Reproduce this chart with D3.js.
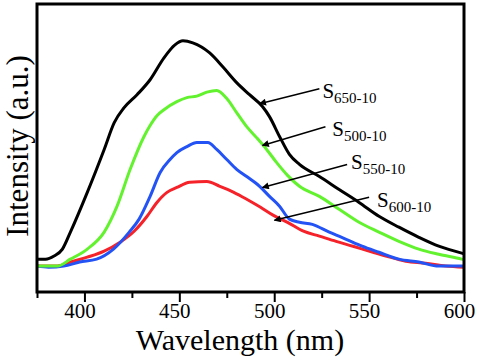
<!DOCTYPE html>
<html>
<head>
<meta charset="utf-8">
<script src="https://cdn.jsdelivr.net/npm/d3@7"></script>
<style>
  html, body { margin: 0; padding: 0; background: #fff; }
  svg { display: block; }
  text { font-family: "Liberation Serif", "Times New Roman", Times, serif; }
</style>
</head>
<body>
<div id="chart"></div>
<script>
// ---- data ----
const xTicksMajor = [400, 450, 500, 550, 600];
const xTicksMinor = [375, 425, 475, 525, 575];

const s650 = [
  [375, 114], [379.5, 114], [384, 125], [388.4, 149], [392.6, 208], [401.5, 346],
  [410.4, 495], [415.7, 588], [420.9, 640], [427.7, 685], [434.6, 737],
  [441.9, 813], [447.7, 858], [451.9, 872], [457.1, 865], [466.0, 830],
  [472.9, 782], [480.2, 727], [487.0, 685], [493.8, 644], [497.5, 609],
  [502.8, 540], [508.0, 478], [513.3, 443], [523.8, 401], [534.2, 356],
  [544.7, 311], [555.2, 263], [565.7, 225], [576.2, 190], [586.7, 159],
  [598.8, 135], [600, 133]
];
const s500 = [
  [375, 90], [385.8, 90], [392.6, 114], [401.5, 149], [410.4, 208],
  [417.2, 298], [424.1, 426], [431.4, 540], [434.6, 578], [438.2, 612],
  [441.9, 633], [448.7, 661], [454.0, 675], [459.2, 680], [464.5, 694],
  [469.7, 700], [475.0, 672], [480.2, 623], [485.5, 574], [490.7, 536],
  [496.0, 495], [501.2, 450], [507.0, 405], [513.3, 367], [523.8, 332],
  [534.2, 287], [544.7, 242], [555.2, 208], [565.7, 176], [576.2, 149],
  [586.7, 131], [598.8, 114], [600, 112]
];
const s550 = [
  [375, 90], [381.1, 86], [389.1, 90], [397.5, 104], [406.4, 114],
  [415.3, 149], [423.6, 208], [428.8, 253], [434.6, 332], [439.9, 415],
  [445.1, 460], [448.7, 484], [454.0, 505], [459.2, 519], [465.0, 519],
  [469.7, 495], [475.0, 460], [480.2, 426], [485.5, 401], [492.3, 367],
  [497.5, 332], [502.8, 298], [508.0, 253], [513.3, 242], [520.1, 235],
  [529.0, 208], [537.9, 183], [546.3, 159], [555.2, 138], [565.7, 114],
  [576.2, 104], [586.7, 90], [598.8, 90], [600, 90]
];
const s600 = [
  [375, 90], [385.8, 90], [392.6, 104], [401.5, 121], [410.4, 142],
  [418.8, 173], [426.2, 211], [433.0, 263], [438.2, 311], [443.5, 346],
  [448.7, 363], [455.5, 381], [464.5, 384], [471.3, 367], [478.7, 346],
  [485.5, 322], [492.8, 294], [499.6, 266], [507.0, 242], [515.4, 211],
  [523.8, 194], [532.6, 176], [541.5, 159], [549.9, 142], [558.8, 125],
  [569.3, 107], [579.8, 100], [590.3, 90], [600, 86]
];

const seriesNames = ["650-10", "500-10", "550-10", "600-10"];
const seriesColors = ["#000000", "#62f22e", "#2453f5", "#f5222a"];
const seriesData = [s650, s500, s550, s600];
// draw order: red & blue under green under black
const drawOrder = [3, 2, 1, 0];

// annotation anchors in data units: [label x, label y, arrow tail x, tail y, tip x, tip y]
const annWl = [[525.4, 675, 523.8, 706, 492.3, 654],
               [530.6, 540, 527.0, 574, 493.8, 509],
               [540.5, 426, 538.4, 443, 493.8, 363],
               [554.2, 294, 550.0, 329, 500.1, 249]];

const xLabel = "Wavelength (nm)";
const yLabel = "Intensity (a.u.)";

// ---- layout ----
const W = 479, H = 358;
const mLeft = 37, mRight = 464, mTop = 4, mBottom = 292;

const svg = d3.select("#chart").append("svg")
  .attr("width", W).attr("height", H);

const x = d3.scaleLinear().domain([375, 600]).range([mLeft, mRight]);
const y = d3.scaleLinear().domain([0, 1000]).range([mBottom, mTop]);

// defs for arrowhead
const defs = svg.append("defs");
defs.append("marker")
  .attr("id", "ah").attr("viewBox", "0 0 10 10")
  .attr("refX", 9).attr("refY", 5)
  .attr("markerWidth", 10).attr("markerHeight", 7)
  .attr("markerUnits", "userSpaceOnUse")
  .attr("orient", "auto")
  .append("path").attr("d", "M0,0 L10,5 L0,10 Z").attr("fill", "#000");

defs.append("clipPath").attr("id", "clip")
  .append("rect").attr("x", mLeft).attr("y", mTop)
  .attr("width", mRight - mLeft).attr("height", mBottom - mTop);

// curves
const line = d3.line()
  .x(d => x(d[0])).y(d => y(d[1]))
  .curve(d3.curveMonotoneX);

const g = svg.append("g").attr("clip-path", "url(#clip)");
drawOrder.forEach(i => {
  g.append("path")
    .datum(seriesData[i])
    .attr("d", line)
    .attr("fill", "none")
    .attr("stroke", seriesColors[i])
    .attr("stroke-width", 3)
    .attr("stroke-linejoin", "round")
    .attr("stroke-linecap", "round");
});

// frame
svg.append("rect")
  .attr("x", mLeft).attr("y", mTop)
  .attr("width", mRight - mLeft).attr("height", mBottom - mTop)
  .attr("fill", "none").attr("stroke", "#000").attr("stroke-width", 3);

// x axis
const xAxis = d3.axisBottom(x).tickValues(xTicksMajor).tickSize(10).tickSizeOuter(0)
  .tickFormat(d3.format("d"));
const ax = svg.append("g").attr("transform", `translate(0,${mBottom})`).call(xAxis);
ax.select(".domain").remove();
ax.selectAll(".tick line").attr("stroke", "#000").attr("stroke-width", 2);
ax.selectAll(".tick text")
  .attr("font-size", 21).attr("fill", "#000")
  .attr("dy", 0).attr("y", 26).attr("dx", -5);

const axMinor = d3.axisBottom(x).tickValues(xTicksMinor).tickSize(6).tickFormat("").tickSizeOuter(0);
const am = svg.append("g").attr("transform", `translate(0,${mBottom})`).call(axMinor);
am.select(".domain").remove();
am.selectAll(".tick line").attr("stroke", "#000").attr("stroke-width", 2);

// axis titles
svg.append("text")
  .attr("x", 240).attr("y", 350)
  .attr("text-anchor", "middle").attr("font-size", 30).attr("fill", "#000")
  .text(xLabel);

svg.append("text")
  .attr("transform", `translate(28,${146}) rotate(-90)`)
  .attr("text-anchor", "middle").attr("font-size", 31).attr("fill", "#000")
  .text(yLabel);

// annotations
annWl.forEach((a, i) => {
  svg.append("line")
    .attr("x1", x(a[2])).attr("y1", y(a[3]))
    .attr("x2", x(a[4])).attr("y2", y(a[5]))
    .attr("stroke", "#000").attr("stroke-width", 1.5)
    .attr("marker-end", "url(#ah)");
  const t = svg.append("text")
    .attr("x", x(a[0])).attr("y", y(a[1]))
    .attr("font-size", 21).attr("fill", "#000");
  t.append("tspan").text("S");
  t.append("tspan").attr("font-size", 15).attr("dy", 5).text(seriesNames[i]);
});
</script>
</body>
</html>
